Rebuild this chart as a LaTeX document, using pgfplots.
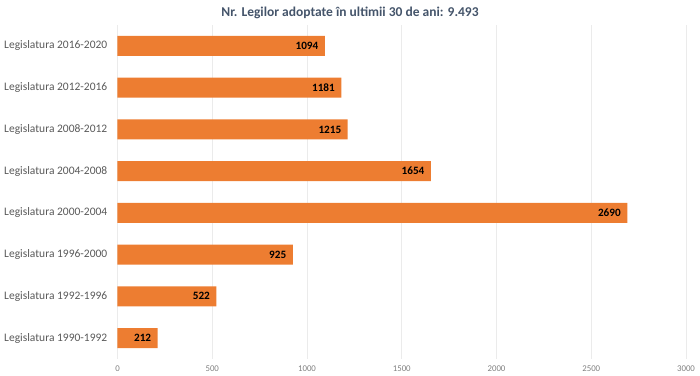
\documentclass[border=0pt]{standalone}
\usepackage{pgfplots}
\pgfplotsset{compat=1.18}
\usepackage{fontspec}
\setmainfont{Carlito}
\definecolor{barorange}{HTML}{ED7D31}
\definecolor{titlecol}{HTML}{44546A}
\definecolor{labcol}{HTML}{595959}
\definecolor{tickcol}{HTML}{808080}
\definecolor{gridcol}{HTML}{EBEBEB}
\begin{document}
\begin{tikzpicture}
\begin{axis}[
  at={(0,0)}, anchor=south west,
  scale only axis,
  width=568.5bp, height=333.8bp,
  xbar,
  bar width=20bp,
  xmin=0, xmax=3000,
  ymin=-0.5, ymax=7.5,
  xtick={0,500,1000,1500,2000,2500,3000},
  ytick={0,1,2,3,4,5,6,7},
  yticklabels={Legislatura 1990-1992,Legislatura 1992-1996,Legislatura 1996-2000,Legislatura 2000-2004,Legislatura 2004-2008,Legislatura 2008-2012,Legislatura 2012-2016,Legislatura 2016-2020},
  axis line style={draw=none},
  major tick length=0pt,
  xmajorgrids,
  grid style={gridcol, line width=0.6bp},
  /pgf/number format/assume math mode=true,
  /pgf/number format/1000 sep={},
  xticklabel style={font=\fontsize{8.8bp}{10bp}\selectfont, text=tickcol, inner sep=0pt, anchor=center, yshift=-9.5bp},
  yticklabel style={font=\fontsize{11.5bp}{13bp}\selectfont, text=labcol, inner sep=0pt, anchor=east, xshift=-10bp},
  nodes near coords,
  every node near coord/.append style={font=\bfseries\fontsize{11.2bp}{13bp}\selectfont, text=black, anchor=east, xshift=-3bp},
]
\addplot[fill=barorange, draw=none] coordinates {
(212,0) (522,1) (925,2) (2690,3) (1654,4) (1215,5) (1181,6) (1094,7)
};
\end{axis}
\node[font=\bfseries\fontsize{13.5bp}{16bp}\selectfont, text=titlecol] at (232.5bp,346.3bp) {Nr. Legilor adoptate în ultimii 30 de ani: 9.493};
\pgfresetboundingbox
\useasboundingbox (-117.5bp,-17.1bp) rectangle (582.5bp,358.9bp);
\end{tikzpicture}
\end{document}
